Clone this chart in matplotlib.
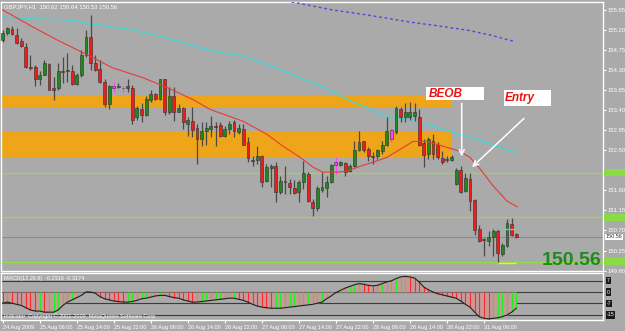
import numpy as np
import matplotlib
matplotlib.use("Agg")
import matplotlib.pyplot as plt
import matplotlib.transforms as mtransforms
from matplotlib.patches import Rectangle

# GBPJPY H1 candles (bar index 0..111)
opens = [154.98, 155.14, 155.23, 155.09, 154.96, 154.82, 154.36, 154.38, 154.11, 154.20,
         154.44, 153.91, 153.89, 154.27, 154.29, 154.29, 154.00, 154.20, 154.65, 155.05,
         154.47, 154.33, 154.04, 153.55, 153.95, 153.93, 153.91, 153.95, 153.91, 153.24,
         153.42, 153.30, 153.62, 153.77, 153.66, 154.09, 153.35, 153.73, 153.37, 153.46,
         153.10, 153.15, 152.99, 152.75, 152.93, 152.97, 153.04, 153.06, 152.83, 152.97,
         153.13, 152.90, 152.97, 152.68, 152.28, 152.28, 152.37, 151.81, 152.10, 152.14,
         151.56, 151.79, 151.76, 151.65, 151.56, 151.79, 151.97, 151.34, 151.20, 151.61,
         151.65, 151.79, 152.17, 152.17, 152.21, 152.03, 152.14, 152.50, 152.70, 152.54,
         152.37, 152.37, 152.48, 152.63, 152.75, 152.90, 153.42, 153.24, 153.24, 153.26,
         153.24, 152.66, 152.41, 152.72, 152.63, 152.32, 152.30, 152.28, 151.74, 152.05,
         151.58, 151.85, 151.38, 150.74, 150.49, 150.47, 150.56, 150.69, 150.18, 150.36,
         150.85, 150.62]
highs = [155.20, 155.27, 155.29, 155.25, 155.02, 154.91, 154.65, 154.42, 154.27, 154.53,
         154.47, 154.15, 154.47, 154.60, 154.69, 154.42, 154.24, 154.76, 155.20, 155.54,
         154.65, 154.53, 154.09, 153.97, 154.04, 154.02, 153.95, 154.09, 153.97, 153.50,
         153.57, 153.73, 153.86, 153.79, 154.11, 154.11, 153.93, 153.93, 153.53, 153.48,
         153.24, 153.48, 153.08, 153.13, 153.13, 153.26, 153.13, 153.13, 153.04, 153.15,
         153.19, 153.08, 153.08, 152.79, 152.37, 152.59, 152.39, 152.19, 152.19, 152.23,
         151.92, 152.14, 151.85, 151.83, 151.83, 152.26, 152.01, 151.41, 151.70, 152.01,
         151.92, 152.19, 152.34, 152.26, 152.23, 152.19, 152.70, 152.93, 152.72, 152.57,
         152.46, 152.52, 152.70, 153.24, 153.01, 153.50, 153.48, 153.57, 153.59, 153.57,
         153.42, 152.75, 152.79, 152.86, 152.68, 152.48, 152.37, 152.39, 152.10, 152.14,
         151.99, 151.99, 151.41, 150.83, 150.54, 150.69, 150.74, 150.74, 150.42, 150.96,
         150.98, 150.64]
lows = [154.93, 155.09, 155.09, 154.89, 154.82, 154.35, 154.31, 153.95, 153.97, 154.18,
        153.85, 153.64, 153.86, 154.02, 154.04, 153.97, 153.97, 154.15, 154.60, 154.31,
        154.27, 154.02, 153.48, 153.42, 153.82, 153.91, 153.82, 153.82, 153.08, 153.19,
        153.13, 153.28, 153.59, 153.64, 153.64, 153.30, 153.32, 153.15, 153.35, 152.97,
        152.83, 152.79, 152.19, 152.59, 152.63, 152.81, 152.59, 152.81, 152.79, 152.86,
        152.81, 152.86, 152.61, 152.23, 152.14, 152.19, 151.67, 151.79, 151.67, 151.34,
        151.52, 151.52, 151.52, 151.52, 151.34, 151.63, 151.34, 151.03, 151.14, 151.56,
        151.45, 151.76, 151.97, 152.14, 151.92, 152.01, 152.12, 152.48, 152.46, 152.26,
        152.19, 152.30, 152.41, 152.59, 152.68, 152.86, 153.13, 153.13, 153.19, 153.15,
        152.59, 152.12, 152.30, 152.30, 152.30, 152.19, 152.23, 152.26, 151.72, 151.54,
        151.56, 151.14, 150.60, 150.45, 150.13, 150.36, 150.13, 150.00, 150.13, 150.33,
        150.58, 150.53]
closes = [155.14, 155.25, 155.11, 154.91, 154.85, 154.38, 154.35, 154.11, 154.20, 154.47,
          153.86, 153.86, 154.27, 154.26, 154.28, 154.00, 154.20, 154.65, 155.05, 154.47,
          154.31, 154.04, 153.55, 153.95, 153.91, 153.95, 153.89, 153.91, 153.19, 153.46,
          153.30, 153.66, 153.77, 153.66, 154.09, 153.35, 153.73, 153.35, 153.46, 153.13,
          153.17, 152.95, 152.75, 152.93, 153.01, 153.04, 153.03, 152.83, 152.97, 153.10,
          152.93, 152.99, 152.63, 152.32, 152.27, 152.37, 151.79, 152.12, 152.14, 151.56,
          151.81, 151.78, 151.67, 151.54, 151.79, 151.99, 151.36, 151.20, 151.65, 151.67,
          151.79, 152.17, 152.23, 152.23, 152.01, 152.14, 152.50, 152.68, 152.50, 152.37,
          152.36, 152.50, 152.61, 152.93, 152.95, 153.44, 153.24, 153.37, 153.37, 153.37,
          152.63, 152.39, 152.75, 152.41, 152.34, 152.23, 152.29, 152.34, 152.05, 151.56,
          151.88, 151.36, 150.71, 150.47, 150.48, 150.56, 150.69, 150.20, 150.38, 150.87,
          150.60, 150.56]
marked_bars = [24, 26, 72, 84]

# moving averages (bar index, price)
red_ma_x = [0, 6.5, 11.7, 17.4, 23.8, 30.3, 35.5, 41.1, 44.8, 52, 57.1, 60.6, 64.3, 67.1, 69.2,
            72.3, 74.4, 77.2, 80, 83, 85.9, 88.7, 91.7, 95.2, 98.8, 101, 103.2, 106, 109, 111.2]
red_ma_y = [155.65, 155.27, 154.98, 154.69, 154.35, 154.13, 153.91, 153.64, 153.42, 153.15,
            152.86, 152.59, 152.34, 152.12, 152.01, 152.01, 152.03, 152.14, 152.23, 152.34,
            152.52, 152.70, 152.70, 152.59, 152.48, 152.34, 152.08, 151.70, 151.36, 151.23]
cyan_ma_x = [0, 6.5, 13.9, 21, 28.2, 35.5, 42.7, 48.5, 52, 58.4, 64.3, 70.1, 73.6, 78.7, 83,
             88, 93, 100.3, 104.7, 111.2]
cyan_ma_y = [155.49, 155.45, 155.43, 155.31, 155.20, 155.02, 154.80, 154.67, 154.62, 154.38,
             154.13, 153.89, 153.68, 153.46, 153.26, 153.19, 153.04, 152.81, 152.68, 152.43]
blue_ma_x = [60, 62.5, 71.4, 78.7, 88, 93, 100.3, 105.3, 110.7]
blue_ma_y = [155.90, 155.83, 155.65, 155.54, 155.38, 155.31, 155.20, 155.09, 154.94]

# zones and levels
zones = [(153.47, 153.71), (152.32, 152.90)]
zone_end = 97.2
green_levels = [152.00, 151.00, 150.00]
last_price = 150.56
price_ticks = [155.65, 155.20, 154.75, 154.30, 153.85, 153.40, 152.95, 152.50,
               151.60, 151.15, 150.70, 150.25, 149.80]

# lower indicator histogram
hist = [-1.0, -0.9, -1.0, -1.1, -1.2, -1.4, -1.6, -1.7, -1.7, -1.8,
        -1.8, -1.8, -1.6, -1.2, -0.9, -0.7, -0.5, -0.3, 0.0, 0.0,
        -0.1, -0.4, -0.6, -0.7, -0.8, -0.85, -0.9, -0.9, -0.85, -0.75,
        -0.6, -0.55, -0.45, -0.35, -0.3, -0.3, -0.4, -0.5, -0.55, -0.7,
        -0.8, -0.9, -0.9, -0.85, -0.8, -0.75, -0.7, -0.65, -0.6, -0.55,
        -0.55, -0.65, -0.75, -0.9, -1.1, -1.25, -1.35, -1.4, -1.45, -1.45,
        -1.45, -1.4, -1.35, -1.3, -1.25, -1.2, -1.15, -1.1, -1.0, -0.9,
        -0.6, -0.35, -0.05, 0.15, 0.35, 0.5, 0.65, 0.75, 0.7, 0.6,
        0.55, 0.6, 0.75, 0.9, 1.0, 1.2, 1.35, 1.4, 1.35, 1.25,
        0.9, 0.45, 0.2, 0.0, -0.15, -0.25, -0.35, -0.45, -0.55, -0.8,
        -1.1, -1.35, -1.8, -2.2, -2.35, -2.4, -2.35, -2.3, -2.2, -2.05,
        -1.8, -1.45]
ind_levels = [1.0, 0.0, -1.0, -2.05]
ind_labels = ['7', '0', '-7', '-15']

date_pos = [0, 8, 16, 24, 32, 40, 48, 56, 64, 72, 80, 88, 96, 104]
date_labels = ["24 Aug 2009", "25 Aug 06:00", "25 Aug 14:00", "25 Aug 22:00", "26 Aug 06:00",
               "26 Aug 14:00", "26 Aug 22:00", "27 Aug 06:00", "27 Aug 14:00", "27 Aug 22:00",
               "28 Aug 06:00", "28 Aug 14:00", "28 Aug 22:00", "31 Aug 06:00"]

BG = '#aaaaaa'
SMALL = 'Liberation Sans'
fig = plt.figure(figsize=(6.25, 3.31), dpi=100, facecolor=BG)
ax = fig.add_axes([1/625, 60/331, 602/625, 269/331], facecolor=BG)
ax2 = fig.add_axes([1/625, 11/331, 602/625, 47/331], facecolor=BG)

for a in (ax, ax2):
    for s in a.spines.values():
        s.set_color('white')
        s.set_linewidth(1)
    a.set_xlim(-0.37, 129.74)

ax.set_ylim(149.79, 155.83)
ax2.set_ylim(-2.5, 1.7)

# zones
for lo, hi in zones:
    ax.add_patch(Rectangle((-1, lo), zone_end + 1, hi - lo, color='#eea51a', lw=0, zorder=1))

# horizontal levels
for lv in green_levels:
    ax.axhline(lv, color='#90e040', lw=0.9, zorder=2)
ax.axhline(last_price, color='#8c8c8c', lw=0.8, zorder=2)

# moving averages
ax.plot(blue_ma_x, blue_ma_y, color='#4a4ae6', lw=1, ls=(0, (2, 2)), zorder=3)
ax.plot(cyan_ma_x, cyan_ma_y, color='#44d4d4', lw=1, zorder=3)
ax.plot(red_ma_x, red_ma_y, color='#e83a3a', lw=0.8, zorder=6)

# candles
idx = np.arange(len(opens))
o = np.array(opens); c = np.array(closes); h = np.array(highs); l = np.array(lows)
cols = np.where(c >= o, '#1e8a1e', '#ee1c1c').astype(object)
wick_cols = np.array(['#4a4a4a'] * len(o), dtype=object)
for m in marked_bars:
    cols[m] = '#ff44ff'
    wick_cols[m] = '#ff44ff'
ax.vlines(idx, l, h, colors=list(wick_cols), lw=0.9, zorder=4)
body = np.maximum(np.abs(c - o), 0.02)
ax.bar(idx, body, bottom=np.minimum(o, c), width=0.62, color=list(cols),
       edgecolor='#303030', linewidth=0.4, zorder=5)

# short marks on the last bars
ax.hlines([150.74, 149.98], 107, 111, colors=['#50e0a0', '#f0f020'], lw=1, zorder=6)

# annotations
ax.add_patch(Rectangle((91.5, 153.62), 12.5, 0.31, facecolor='white', lw=0, zorder=7))
ax.text(92.0, 153.775, 'BEOB', color='#ee1111', fontsize=8.5, fontweight='bold',
        fontstyle='italic', family='Liberation Sans', va='center', zorder=8)
ax.add_patch(Rectangle((108.3, 153.50), 10.2, 0.36, facecolor='white', lw=0, zorder=7))
ax.text(108.6, 153.68, 'Entry', color='#ee1111', fontsize=8.5, fontweight='bold',
        fontstyle='italic', family='Liberation Sans', va='center', zorder=8)
ax.annotate('', xy=(99.2, 152.30), xytext=(99.2, 153.62),
            arrowprops=dict(arrowstyle='->', color='white', lw=1.1, mutation_scale=9), zorder=8)
ax.annotate('', xy=(101.0, 152.08), xytext=(113.1, 153.26),
            arrowprops=dict(arrowstyle='->', color='white', lw=1.1, mutation_scale=9), zorder=8)

ax.text(0.998, 0.008, '150.56', transform=ax.transAxes, color='#1d8a1d', fontsize=14,
        fontweight='bold', family='Liberation Sans', ha='right', va='bottom', zorder=9)
ax.text(0.005, 0.99, 'GBPJPY,H1  150.62 150.64 150.53 150.56', transform=ax.transAxes,
        color='white', fontsize=4.3, family=SMALL, va='top', zorder=9)

# right price axis
ax.yaxis.tick_right()
ax.set_yticks(price_ticks)
ax.set_yticklabels(['%.2f' % p for p in price_ticks], family=SMALL)
ax.tick_params(axis='y', colors='white', labelsize=4.2, length=2, width=0.8, pad=1.5)
ax.set_xticks([])

tr = mtransforms.blended_transform_factory(ax.transAxes, ax.transData)
for lv in green_levels:
    ax.add_patch(Rectangle((1.002, lv - 0.08), 0.045, 0.16, transform=tr, facecolor='#88dd44',
                           lw=0, clip_on=False, zorder=10))
ax.text(1.005, last_price, '%.2f' % last_price, transform=tr, fontsize=4.0, family=SMALL,
        color='#303030', va='center', ha='left', clip_on=False, zorder=11,
        bbox=dict(boxstyle='square,pad=0.12', fc='white', ec='none'))

# indicator panel
for lv in ind_levels:
    ax2.axhline(lv, color='#3c3c3c', lw=0.8, zorder=1)
hv = np.array(hist)
ax2.fill_between(idx, 0, hv, color='#c49a9a', lw=0, zorder=2)
hcols = ['#22ee22' if i > 0 and hv[i] >= hv[i - 1] else '#ff2a2a' for i in range(len(hv))]
ax2.vlines(idx, 0, hv, colors=hcols, lw=0.8, zorder=3)
ax2.plot(idx, hv, color='#202020', lw=0.8, zorder=4)
ax2.text(0.005, 0.93, 'MACD(12,26,9)  -0.2316 -0.3174', transform=ax2.transAxes,
         color='white', fontsize=4, family=SMALL, va='top')
ax2.text(0.005, 0.03, 'Indicator  Copyright \u00a9 2001-2009, MetaQuotes Software Corp.',
         transform=ax2.transAxes, color='white', fontsize=4, family=SMALL, va='bottom')
tr2 = mtransforms.blended_transform_factory(ax2.transAxes, ax2.transData)
for lv, lab in zip(ind_levels, ind_labels):
    ax2.text(1.006, lv, lab, transform=tr2, fontsize=3.8, family=SMALL, color='white',
             va='center', ha='left', clip_on=False,
             bbox=dict(boxstyle='square,pad=0.2', fc='#1a1a1a', ec='none'))
ax2.set_yticks([])
ax2.set_xticks(date_pos)
ax2.set_xticklabels(date_labels, ha='left', family=SMALL)
ax2.tick_params(axis='x', colors='white', labelsize=4.0, length=2, width=0.8, pad=1.5)

fig.savefig('out.png', dpi=100, facecolor=BG)
